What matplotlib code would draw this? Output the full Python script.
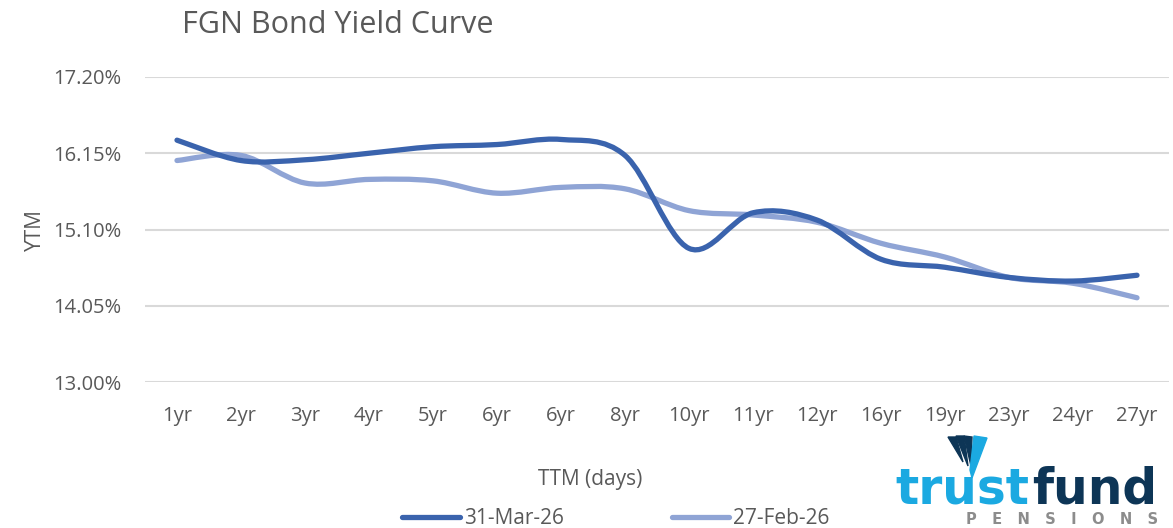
import matplotlib
matplotlib.use("Agg")
import matplotlib.pyplot as plt
from matplotlib.path import Path
from matplotlib.patches import PathPatch, Polygon
from matplotlib.lines import Line2D

# ---------------- data ----------------
categories = ["1yr", "2yr", "3yr", "4yr", "5yr", "6yr", "6yr", "8yr",
              "10yr", "11yr", "12yr", "16yr", "19yr", "23yr", "24yr", "27yr"]
mar26 = [16.33, 16.05, 16.06, 16.15, 16.24, 16.27, 16.34, 16.12,
         14.84, 15.33, 15.23, 14.69, 14.58, 14.44, 14.39, 14.47]
feb26 = [16.05, 16.12, 15.74, 15.79, 15.77, 15.60, 15.68, 15.66,
         15.36, 15.30, 15.20, 14.91, 14.72, 14.44, 14.36, 14.16]
series_names = ["31-Mar-26", "27-Feb-26"]
yticks = [13.00, 14.05, 15.10, 16.15, 17.20]

DARK = "#3A63AD"
LIGHT = "#8FA4D5"
TXT = "#595959"
GRID = "#D9D9D9"
FONT = "Open Sans"

W, H = 1173, 528
fig = plt.figure(figsize=(W / 100, H / 100), dpi=100)
fig.patch.set_facecolor("white")


def fx(px):
    return px / W


def fy(py):
    return 1 - py / H


ax = fig.add_axes([fx(145), fy(382), fx(1169) - fx(145), fy(77) - fy(382)])
ax.set_xlim(-0.5, len(categories) - 0.5)
ax.set_ylim(13.0, 17.2)


def smooth_path(xs, ys):
    # Excel-like smoothed line: Catmull-Rom converted to cubic Bezier segments
    pts = list(zip(xs, ys))
    n = len(pts)
    verts = [pts[0]]
    codes = [Path.MOVETO]
    for i in range(n - 1):
        p0 = pts[i - 1] if i > 0 else pts[i]
        p1 = pts[i]
        p2 = pts[i + 1]
        p3 = pts[i + 2] if i + 2 < n else pts[i + 1]
        c1 = (p1[0] + (p2[0] - p0[0]) / 6, p1[1] + (p2[1] - p0[1]) / 6)
        c2 = (p2[0] - (p3[0] - p1[0]) / 6, p2[1] - (p3[1] - p1[1]) / 6)
        verts += [c1, c2, p2]
        codes += [Path.CURVE4] * 3
    return Path(verts, codes)


xs = list(range(len(categories)))
for vals, col in [(feb26, LIGHT), (mar26, DARK)]:
    patch = PathPatch(smooth_path(xs, vals), fill=False, edgecolor=col,
                      lw=3.8, capstyle="round", joinstyle="round", zorder=3)
    ax.add_patch(patch)

ax.set_yticks(yticks)
ax.set_yticklabels([f"{v:.2f}%" for v in yticks])
ax.set_xticks(xs)
ax.set_xticklabels(categories)
ax.grid(axis="y", color=GRID, lw=1.5, zorder=0)
ax.tick_params(axis="both", length=0, labelsize=14.5, labelcolor=TXT)
ax.tick_params(axis="y", pad=17)
ax.tick_params(axis="x", pad=17)
for lab in ax.get_xticklabels() + ax.get_yticklabels():
    lab.set_fontfamily(FONT)
for s in ax.spines.values():
    s.set_visible(False)

# titles / labels
fig.text(fx(182), fy(25), "FGN Bond Yield Curve", fontsize=22, color=TXT,
         family=FONT, ha="left", va="center")
fig.text(fx(35), fy(230), "YTM", fontsize=15, color=TXT, family=FONT,
         rotation=90, ha="center", va="center")
fig.text(fx(590), fy(479), "TTM (days)", fontsize=15, color=TXT, family=FONT,
         ha="center", va="center")

# legend
handles = [Line2D([], [], color=DARK, lw=3.8, solid_capstyle="round"),
           Line2D([], [], color=LIGHT, lw=3.8, solid_capstyle="round")]
leg = fig.legend(handles, series_names, loc="center",
                 bbox_to_anchor=(fx(616), fy(519)), ncol=2, frameon=False,
                 handlelength=2.75, handletextpad=0.2, columnspacing=5.2,
                 prop={"family": FONT, "size": 15}, borderaxespad=0,
                 borderpad=0)
for t in leg.get_texts():
    t.set_color(TXT)

# logo
CYAN = "#1BA9E1"
NAVY = "#0D3556"
fig.text(fx(895), fy(503), "trust", fontsize=35, color=CYAN,
         family="DejaVu Sans", weight="bold", ha="left", va="baseline")
fig.text(fx(1157), fy(503), "fund", fontsize=35, color=NAVY,
         family="DejaVu Sans", weight="bold", ha="right", va="baseline")
fig.text(fx(1158), fy(527), "   ".join("PENSIONS"), fontsize=10.5,
         color="#8C8C8C", family="DejaVu Sans", weight="bold",
         ha="right", va="bottom")

icon = [
    (Polygon([(fx(948), fy(437)), (fx(956), fy(437)), (fx(963), fy(462))],
             closed=True, transform=fig.transFigure, color=NAVY)),
    (Polygon([(fx(956), fy(436)), (fx(964), fy(436)), (fx(968), fy(466))],
             closed=True, transform=fig.transFigure, color=NAVY)),
    (Polygon([(fx(964), fy(436)), (fx(972), fy(437)), (fx(971), fy(466))],
             closed=True, transform=fig.transFigure, color=NAVY)),
    (Polygon([(fx(974), fy(436)), (fx(987), fy(438)), (fx(972), fy(478)),
              (fx(970), fy(470))],
             closed=True, transform=fig.transFigure, color=CYAN)),
]
for p in icon:
    fig.add_artist(p)

fig.savefig("out.png", dpi=100, facecolor="white")
